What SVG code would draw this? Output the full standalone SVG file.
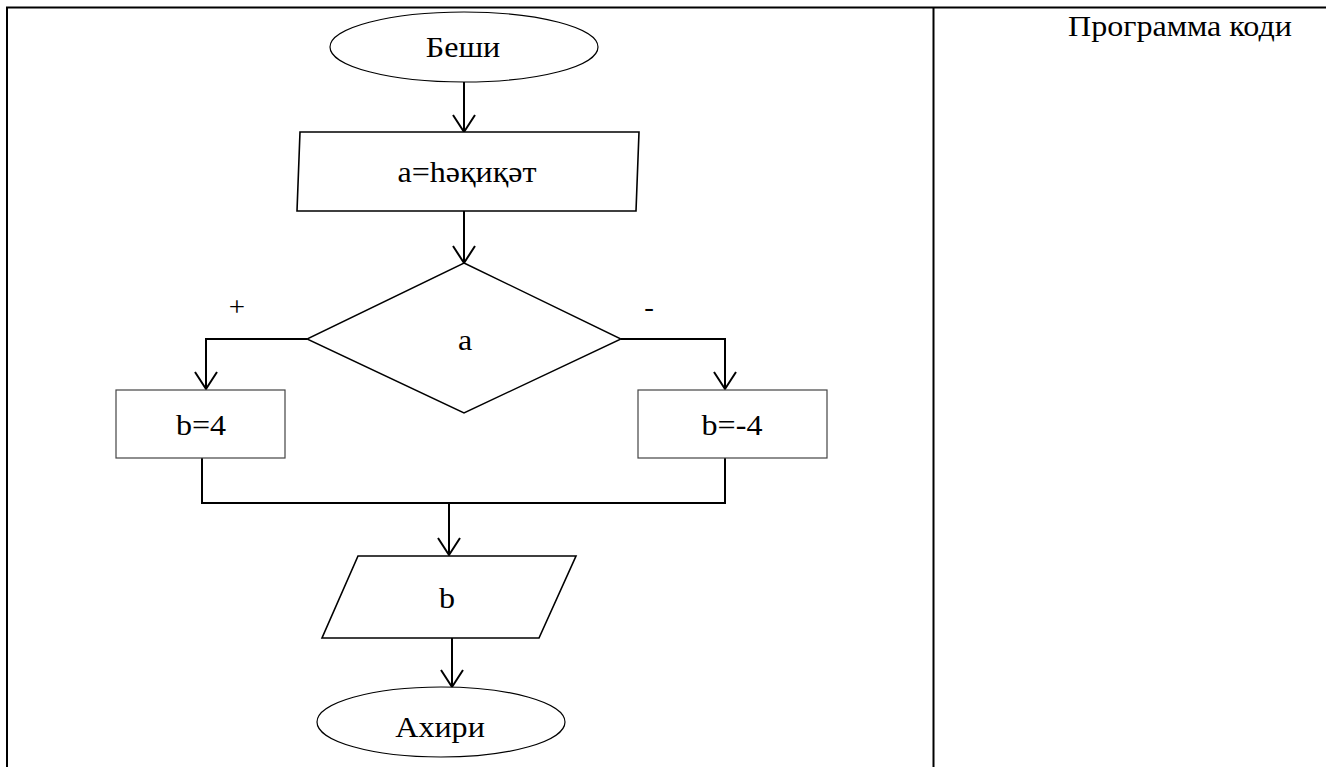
<svg xmlns="http://www.w3.org/2000/svg" width="1326" height="767" viewBox="0 0 1326 767">
<defs>
<style>
.t{font-family:"Liberation Serif","DejaVu Serif",serif;font-size:30px;fill:#000;text-anchor:middle}
.s{fill:#fff;stroke:#000;stroke-width:1.2}
.c{fill:none;stroke:#000;stroke-width:2}
.b{fill:none;stroke:#000;stroke-width:2}
</style>
<marker id="ah" viewBox="-1 -12 20 24" refX="17" refY="0" markerWidth="20" markerHeight="24" markerUnits="userSpaceOnUse" orient="auto" overflow="visible">
<path d="M0,-11 L17,0 L0,11" fill="none" stroke="#000" stroke-width="2"/>
</marker>
</defs>
<rect width="1326" height="767" fill="#fff"/>
<g id="table">
<path class="b" d="M7,767 V7.5 H1326 M933.5,7.5 V767"/>
<text class="t" transform="translate(1180,36) scale(1.07,1)">Программа коди</text>
</g>
<g id="connectors">
<path class="c" d="M464,82 V132" marker-end="url(#ah)"/>
<path class="c" d="M464,211 V263" marker-end="url(#ah)"/>
<path class="c" d="M307,339 H206 V389" marker-end="url(#ah)"/>
<path class="c" d="M621,339 H725 V389" marker-end="url(#ah)"/>
<path class="c" d="M202,458 V503 H725 V458"/>
<path class="c" d="M449,503 V555" marker-end="url(#ah)"/>
<path class="c" d="M452,638 V687" marker-end="url(#ah)"/>
<text class="t" transform="translate(237,316) scale(1.07,1)" style="font-size:27px">+</text>
<text class="t" transform="translate(649,316) scale(1.07,1)" style="font-size:27px">-</text>
</g>
<g id="start">
<ellipse class="s" cx="464" cy="47" rx="134" ry="35"/>
<text class="t" transform="translate(463,57) scale(1.07,1)">Беши</text>
</g>
<g id="assign">
<polygon class="s" points="300,132 639,132 636,211 297,211" style="stroke-width:1.6"/>
<text class="t" transform="translate(467,182) scale(1.07,1)">a=hәқиқәт</text>
</g>
<g id="decision">
<polygon class="s" points="464,263 621,339 464,413 307,339" style="stroke-width:1.4"/>
<text class="t" transform="translate(465,350) scale(1.07,1)">a</text>
</g>
<g id="plus">
<rect class="s" x="116" y="390" width="169" height="68" style="stroke:#444"/>
<text class="t" transform="translate(201,435) scale(1.07,1)">b=4</text>
</g>
<g id="minus">
<rect class="s" x="638" y="390" width="189" height="68" style="stroke:#444"/>
<text class="t" transform="translate(732,435) scale(1.07,1)">b=-4</text>
</g>
<g id="output">
<polygon class="s" points="358,556 576,556 539,638 322,638" style="stroke-width:1.6"/>
<text class="t" transform="translate(447,608) scale(1.07,1)">b</text>
</g>
<g id="end">
<ellipse class="s" cx="441" cy="722" rx="124" ry="35"/>
<text class="t" transform="translate(440,737) scale(1.07,1)">Ахири</text>
</g>
</svg>
